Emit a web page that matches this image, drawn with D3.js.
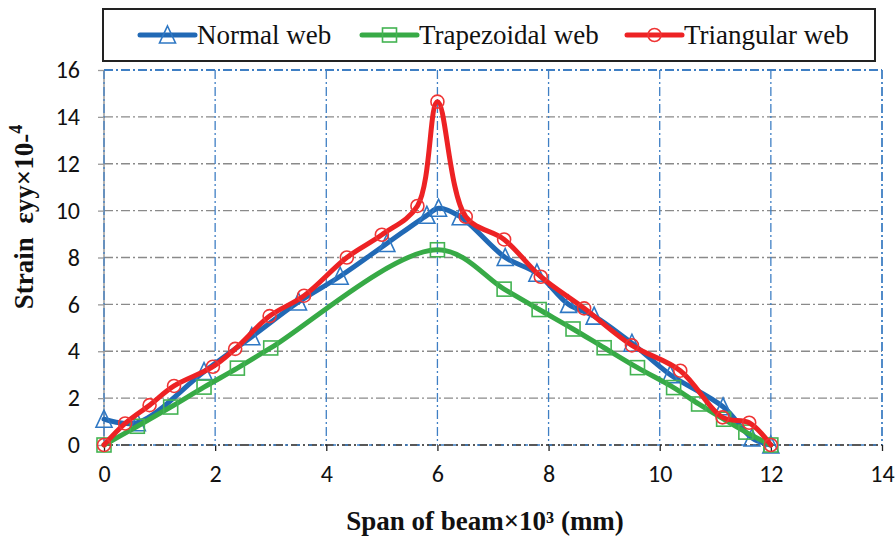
<!DOCTYPE html>
<html><head><meta charset="utf-8">
<script src="https://cdn.jsdelivr.net/npm/d3@7"></script>
<style>
body{margin:0;background:#fff;}
svg{display:block;}
.tick text{font-family:Carlito,Lato,"Open Sans",sans-serif;font-size:24px;fill:#111;}
</style></head>
<body><svg id="c" width="895" height="538"></svg>
<script>
// ---- data ----
const seriesNames = ["Normal web","Trapezoidal web","Triangular web"];
const xTicks = [0,2,4,6,8,10,12,14];
const yTicks = [0,2,4,6,8,10,12,14,16];

const normalX = [0,0.6,1.8,2.66,3.5,4.25,5.09,5.81,6.02,6.41,7.22,7.79,8.36,8.82,9.5,10.19,11.14,11.66,12];
const normalY = [1.1,0.95,3.13,4.62,6.1,7.2,8.6,9.8,10.1,9.74,8.0,7.33,6.0,5.5,4.34,3.0,1.63,0.3,0];

const trapX = [0,0.6,1.2,1.8,2.4,3.0,6.0,7.2,7.83,8.44,9.0,9.6,10.25,10.7,11.15,11.55,12];
const trapY = [0,0.8,1.62,2.47,3.28,4.14,8.33,6.65,5.78,4.95,4.15,3.3,2.45,1.75,1.1,0.55,0];

const triX = [0,0.38,0.82,1.26,1.96,2.36,2.98,3.6,4.37,5.0,5.64,6.0,6.51,7.2,7.86,8.64,9.5,10.37,11.13,11.61,12];
const triY = [0,0.92,1.7,2.52,3.34,4.1,5.5,6.37,8.0,8.97,10.2,14.65,9.74,8.77,7.18,5.83,4.25,3.17,1.18,0.95,0];

// ---- chart ----
const svg = d3.select("#c");
const L=104,R=882,T=70,B=445;
const x = d3.scaleLinear().domain([0,14]).range([L,R]);
const y = d3.scaleLinear().domain([0,16]).range([B,T]);
const dashDot = "9,3,2,3";
const gridBlue = "#3f7fc4", gridGray="#8a8a8a";

// horizontal grid (gray)
svg.append("g").selectAll("line").data(yTicks.filter(v=>v>0&&v<16)).join("line")
  .attr("x1",L).attr("x2",R).attr("y1",d=>y(d)).attr("y2",d=>y(d))
  .attr("stroke",gridGray).attr("stroke-width",1.3).attr("stroke-dasharray",dashDot);
// left axis line (gray solid)
svg.append("line").attr("x1",L).attr("x2",L).attr("y1",T).attr("y2",B)
  .attr("stroke","#9a9a9a").attr("stroke-width",1.5);
// vertical grid (blue)
svg.append("g").selectAll("line").data(xTicks).join("line")
  .attr("x1",d=>x(d)).attr("x2",d=>x(d)).attr("y1",T).attr("y2",B)
  .attr("stroke",gridBlue).attr("stroke-width",d=>d===14?1.8:1.3).attr("stroke-dasharray",dashDot);
// top border (blue)
svg.append("line").attr("x1",L).attr("x2",R).attr("y1",y(16)).attr("y2",y(16))
  .attr("stroke",gridBlue).attr("stroke-width",1.8).attr("stroke-dasharray",dashDot);

// axes
const yAxis = d3.axisLeft(y).tickValues(yTicks).tickSize(6).tickPadding(18).tickFormat(d3.format("d"));
const gy = svg.append("g").attr("transform",`translate(${L},0)`).call(yAxis);
gy.select(".domain").remove();
gy.selectAll(".tick line").attr("stroke","#9a9a9a").attr("stroke-width",1.3);

const xAxis = d3.axisBottom(x).tickValues(xTicks).tickSize(6).tickPadding(14).tickFormat(d3.format("d"));
const gx = svg.append("g").attr("transform",`translate(0,${B})`).call(xAxis);
gx.select(".domain").attr("stroke","#222").attr("stroke-width",1.5).attr("stroke-dasharray",dashDot).attr("d",`M${L},0H${R}`);
gx.selectAll(".tick line").attr("stroke","#222").attr("stroke-width",1.3);
svg.append("line").attr("x1",L).attr("x2",R).attr("y1",B).attr("y2",B)
  .attr("stroke",gridBlue).attr("stroke-width",1.3).attr("stroke-dasharray","3,9").attr("stroke-dashoffset",-1);

// series
const series = [
  {name:seriesNames[0], xs:normalX, ys:normalY, line:"#2169b5", mk:"#2f78c4", shape:"tri"},
  {name:seriesNames[1], xs:trapX,   ys:trapY,   line:"#37aa46", mk:"#43b352", shape:"sq"},
  {name:seriesNames[2], xs:triX,    ys:triY,    line:"#ed2224", mk:"#ef3535", shape:"circ"}
];
const lineGen = d3.line().x(d=>x(d[0])).y(d=>y(d[1])).curve(d3.curveCatmullRom.alpha(0.5));

function marker(g, shape, color, cx, cy){
  if(shape==="tri"){
    g.append("path").attr("d",`M${cx},${cy-9}L${cx+8},${cy+8}L${cx-8},${cy+8}Z`)
     .attr("fill","none").attr("stroke",color).attr("stroke-width",1.6);
  } else if(shape==="sq"){
    g.append("rect").attr("x",cx-7).attr("y",cy-7).attr("width",14).attr("height",14)
     .attr("fill","none").attr("stroke",color).attr("stroke-width",1.6);
  } else {
    g.append("circle").attr("cx",cx).attr("cy",cy).attr("r",6.5)
     .attr("fill","none").attr("stroke",color).attr("stroke-width",1.6);
  }
}

series.forEach(s=>{
  const pts = s.xs.map((v,i)=>[v,s.ys[i]]);
  const g = svg.append("g");
  g.append("path").datum(pts).attr("d",lineGen).attr("fill","none")
    .attr("stroke",s.line).attr("stroke-width",5).attr("stroke-linejoin","round").attr("stroke-linecap","round");
  pts.forEach(p=>marker(g,s.shape,s.mk,x(p[0]),y(p[1])));
});

// legend
const lg = svg.append("g");
lg.append("rect").attr("x",103).attr("y",9).attr("width",772).attr("height",52)
  .attr("fill","#fff").attr("stroke","#222").attr("stroke-width",2);
const legPos = [140,362,627];
series.forEach((s,i)=>{
  const x0 = legPos[i], cy=35;
  lg.append("line").attr("x1",x0).attr("x2",x0+55).attr("y1",cy).attr("y2",cy)
    .attr("stroke",s.line).attr("stroke-width",5).attr("stroke-linecap","round");
  marker(lg,s.shape,s.mk,x0+27.5,cy);
  lg.append("text").attr("x",x0+57).attr("y",cy).attr("dy","0.35em")
    .attr("font-family","'Liberation Serif','Times New Roman',serif").attr("font-size",27)
    .attr("fill","#111").text(s.name);
});

// axis titles
svg.append("text").attr("x",(L+R)/2-8).attr("y",521).attr("dy","0.35em").attr("text-anchor","middle")
  .attr("font-family","'Liberation Serif','Times New Roman',serif").attr("font-weight","bold").attr("font-size",27)
  .attr("fill","#111").text("Span of beam×10³ (mm)");

const yt = svg.append("text").attr("transform","translate(33,217) rotate(-90)").attr("text-anchor","middle")
  .attr("font-family","'Liberation Serif','Times New Roman',serif").attr("font-weight","bold").attr("font-size",27)
  .attr("fill","#111").attr("xml:space","preserve");
yt.append("tspan").text("Strain  εyy×10-");
yt.append("tspan").attr("dy",-11).attr("font-size",18).text("4");
</script></body></html>
